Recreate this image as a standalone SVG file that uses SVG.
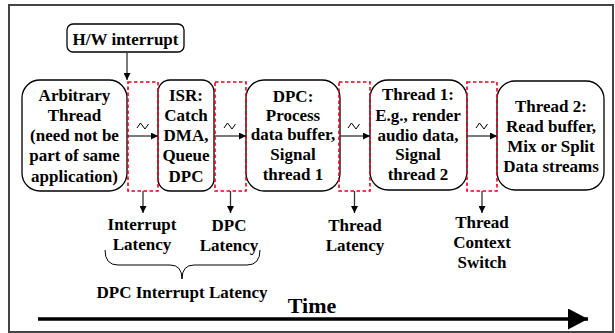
<svg xmlns="http://www.w3.org/2000/svg" width="615" height="333" viewBox="0 0 615 333">
<defs>
<style>
.t{font-family:"Liberation Serif","Times New Roman",serif;font-weight:bold;font-size:17px;fill:#000;text-anchor:middle}
.node{fill:#fff;stroke:#000;stroke-width:1.3}
.gap{fill:none;stroke:#e8001c;stroke-width:1.6;stroke-dasharray:3.5,2.5}
.ln{fill:none;stroke:#333;stroke-width:1.3}
.sq{fill:none;stroke:#000;stroke-width:1}
</style>
<marker id="ah" viewBox="0 0 10 10" refX="10" refY="5" markerWidth="7" markerHeight="7" markerUnits="userSpaceOnUse" orient="auto">
<path d="M0,0 L10,5 L0,10 z" fill="#000"/>
</marker>
<marker id="big" viewBox="0 0 10 10" refX="10" refY="5" markerWidth="20" markerHeight="21" markerUnits="userSpaceOnUse" orient="auto" preserveAspectRatio="none">
<path d="M0,0 L10,5 L0,10 z" fill="#000"/>
</marker>
</defs>
<rect width="615" height="333" fill="#fff"/>
<rect x="9" y="5" width="604" height="327" fill="none" stroke="#444" stroke-width="2"/>

<g id="hw">
<rect class="node" x="67" y="24" width="117" height="28" rx="6"/>
<text class="t" x="125.5" y="45">H/W interrupt</text>
</g>

<g id="arbitrary">
<rect class="node" x="22" y="80" width="105" height="111" rx="18"/>
<text class="t" x="74.5" y="101">Arbitrary</text>
<text class="t" x="74.5" y="121">Thread</text>
<text class="t" x="74.5" y="141">(need not be</text>
<text class="t" x="74.5" y="161">part of same</text>
<text class="t" x="74.5" y="182">application)</text>
</g>

<g id="isr">
<rect class="node" x="158" y="80" width="56" height="111" rx="12"/>
<text class="t" x="186" y="101">ISR:</text>
<text class="t" x="186" y="121">Catch</text>
<text class="t" x="186" y="141">DMA,</text>
<text class="t" x="186" y="161">Queue</text>
<text class="t" x="186" y="182">DPC</text>
</g>

<g id="dpc">
<rect class="node" x="246" y="80" width="94" height="111" rx="18"/>
<text class="t" x="293" y="102">DPC:</text>
<text class="t" x="293" y="121">Process</text>
<text class="t" x="293" y="140">data buffer,</text>
<text class="t" x="293" y="160">Signal</text>
<text class="t" x="293" y="180">thread 1</text>
</g>

<g id="thread1">
<rect class="node" x="370" y="80" width="97" height="110" rx="18"/>
<text class="t" x="418" y="100">Thread 1:</text>
<text class="t" x="418" y="121">E.g., render</text>
<text class="t" x="418" y="141">audio data,</text>
<text class="t" x="418" y="160">Signal</text>
<text class="t" x="418" y="180">thread 2</text>
</g>

<g id="thread2">
<rect class="node" x="497" y="81" width="107" height="109" rx="18"/>
<text class="t" x="551" y="112">Thread 2:</text>
<text class="t" x="551" y="132">Read buffer,</text>
<text class="t" x="551" y="152">Mix or Split</text>
<text class="t" x="551" y="172">Data streams</text>
</g>

<g id="gaps">
<rect class="gap" x="128" y="82" width="30" height="109"/>
<rect class="gap" x="215" y="82" width="31" height="109"/>
<rect class="gap" x="339" y="82" width="31" height="109"/>
<rect class="gap" x="467" y="82" width="30" height="109"/>
</g>

<g id="connectors">
<line class="ln" x1="127" y1="52" x2="127" y2="80" marker-end="url(#ah)"/>
<line class="ln" x1="127" y1="136" x2="158" y2="136" marker-end="url(#ah)"/>
<line class="ln" x1="214" y1="136" x2="246" y2="136" marker-end="url(#ah)"/>
<line class="ln" x1="340" y1="136" x2="370" y2="136" marker-end="url(#ah)"/>
<line class="ln" x1="467" y1="136" x2="497" y2="136" marker-end="url(#ah)"/>
<path class="sq" d="M137,128 L140.5,123 L145,129 L148.5,124"/>
<path class="sq" d="M224,128 L227.5,123 L232,129 L235.5,124"/>
<path class="sq" d="M348,128 L351.5,123 L356,129 L359.5,124"/>
<path class="sq" d="M476,128 L479.5,123 L484,129 L487.5,124"/>
<line class="ln" x1="143" y1="191" x2="143" y2="213" marker-end="url(#ah)"/>
<line class="ln" x1="230.5" y1="191" x2="230.5" y2="213" marker-end="url(#ah)"/>
<line class="ln" x1="354.5" y1="191" x2="354.5" y2="213" marker-end="url(#ah)"/>
<line class="ln" x1="482" y1="191" x2="482" y2="213" marker-end="url(#ah)"/>
<path fill="none" stroke="#000" stroke-width="1" d="M105,250 Q105,265 118,265 L170,265 Q182,265 182,279 Q182,265 194,265 L247,265 Q260,265 260,250"/>
<line x1="38" y1="319" x2="588" y2="319" stroke="#000" stroke-width="3.5" marker-end="url(#big)"/>
</g>

<g id="labels">
<text class="t" x="142" y="230">Interrupt</text>
<text class="t" x="142" y="250">Latency</text>
<text class="t" x="229" y="231">DPC</text>
<text class="t" x="229" y="251">Latency</text>
<text class="t" x="355" y="231">Thread</text>
<text class="t" x="355" y="251">Latency</text>
<text class="t" x="482" y="228">Thread</text>
<text class="t" x="482" y="248">Context</text>
<text class="t" x="482" y="268">Switch</text>
<text class="t" x="182" y="298">DPC Interrupt Latency</text>
<text class="t" x="312" y="313" style="font-size:22px">Time</text>
</g>
</svg>
